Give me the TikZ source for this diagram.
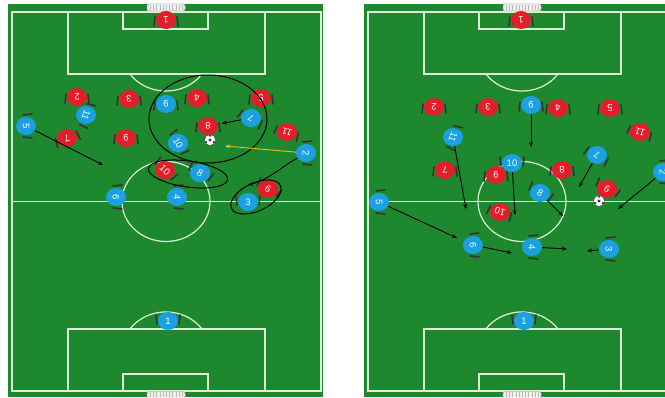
\documentclass[tikz,border=0pt]{standalone}
\usepackage{graphicx}
\usepackage{fontspec}
\newfontfamily\numfont{Liberation Sans}
\definecolor{pitchgreen}{RGB}{30,136,46}
\definecolor{pitchline}{RGB}{222,240,214}
\definecolor{homered}{RGB}{226,30,42}
\definecolor{awayblue}{RGB}{27,160,226}
\definecolor{passyellow}{RGB}{214,196,32}
\usetikzlibrary{
  arrows.meta,
  shapes.geometric
}

% name, x, y, colour, number, facing
\newcommand{\drawplayer}[6]{%
  \begin{scope}[shift={(#2,#3)}, rotate=#6]
    \draw[shoulder] (-12,-6) -- (-11,3);
    \draw[shoulder] (12,-6) -- (11,3);
  \end{scope}
  \node[player, fill=#4] (#1) at (#2,#3) {\rotatebox[origin=c]{#6}{#5}};
}

\begin{document}
\begin{tikzpicture}[
    x=1pt, y=-1pt,
    player/.style={
      ellipse, minimum width=20pt, minimum height=18pt, inner sep=0pt,
      text=white, font=\numfont\fontsize{9.5}{9.5}\selectfont,
    },
    shoulder/.style={draw=black!80, line width=1.6pt, line cap=round},
    ball/.style={circle, draw=black!70, fill=white, minimum size=11pt, inner sep=0pt},
    pitchlines/.style={draw=pitchline, line width=1.2pt},
    net/.style={draw=gray!60, fill=white!88!gray, line width=0.5pt, rounded corners=2pt},
    ring/.style={draw=black, line width=1pt},
    run/.style={->, draw=black, line width=0.9pt},
    pass/.style={->, draw=passyellow, line width=0.9pt},
    >={Stealth[length=5pt, width=4pt]}
  ]
  \useasboundingbox (0,0) rectangle (665,398);
  \fill[white] (0,0) rectangle (665,398);
  \clip (0,0) rectangle (665,398);

  %% --- pitches ---
  \foreach \ox/\gx in {12/8, 368/364} {
    \fill[pitchgreen] (\gx,4) rectangle (\gx+315,397);
    \draw[pitchlines] (\ox,12) rectangle (\ox+309,391);
    \draw[pitchlines] (\ox,201.5) -- (\ox+309,201.5);
    \draw[pitchlines] (\ox+154,201.5) ellipse [x radius=44pt, y radius=40pt];
    % top end
    \draw[pitchlines] (\ox+56,12) rectangle (\ox+253,74);
    \draw[pitchlines] (\ox+111,12) rectangle (\ox+196,29);
    \draw[pitchlines] (\ox+190,74) arc [start angle=-35, end angle=-145, x radius=44pt, y radius=40pt];
    % bottom end
    \draw[pitchlines] (\ox+56,329) rectangle (\ox+253,391);
    \draw[pitchlines] (\ox+111,374) rectangle (\ox+196,391);
    \draw[pitchlines] (\ox+190,329) arc [start angle=35, end angle=145, x radius=44pt, y radius=40pt];
    % nets
    \foreach \ny in {4, 391.5} {
      \draw[net] (\ox+135,\ny) rectangle (\ox+173,\ny+7);
      \foreach \k in {1,...,11}
        \draw[gray!55, line width=0.4pt] (\ox+135+3.2*\k,\ny+1) -- (\ox+135+3.2*\k,\ny+6);
    }
  }

  %% --- players, left pitch ---
  \foreach \nm/\x/\y/\col/\num/\ang in {
      lr1/166/20/homered/1/180, lr2/77/97/homered/2/180, lr3/129/99/homered/3/180,
      lr4/197/98/homered/4/180, lr5/261/98/homered/5/180, lr7/67/138/homered/7/200,
      lr9/126/138/homered/9/180, lr8/208/126/homered/8/180, lr11/287/132/homered/11/160,
      lr10/165/170/homered/10/-45, lr6/268/189/homered/6/-30,
      lb1/168/321/awayblue/1/0, lb5/26/126/awayblue/5/-90, lb11/86/115/awayblue/11/-110,
      lb9/166/104/awayblue/9/180, lb7/251/118/awayblue/7/150, lb10/178/143/awayblue/10/-60,
      lb2/306/153/awayblue/2/-90, lb8/200/173/awayblue/8/-30, lb3/248/202/awayblue/3/0,
      lb6/116/197/awayblue/6/-90, lb4/177/197/awayblue/4/-90} {
    \drawplayer{\nm}{\x}{\y}{\col}{\num}{\ang}
  }

  %% --- players, right pitch ---
  \foreach \nm/\x/\y/\col/\num/\ang in {
      rr1/521/20/homered/1/180, rr2/434/107/homered/2/180, rr3/488/107/homered/3/180,
      rr4/558/108/homered/4/180, rr5/610/108/homered/5/180, rr11/640/132/homered/11/160,
      rr7/445/170/homered/7/180, rr9/496/175/homered/9/180, rr8/562/170/homered/8/180,
      rr6/607/189/homered/6/-30, rr10/500/212/homered/10/160,
      rb1/524/321/awayblue/1/0, rb9/531/105/awayblue/9/180, rb11/453/137/awayblue/11/-110,
      rb10/512/163/awayblue/10/0, rb7/597/155/awayblue/7/150, rb8/540/193/awayblue/8/-30,
      rb2/663/172/awayblue/2/-90, rb5/379/202/awayblue/5/-90, rb6/473/245/awayblue/6/-90,
      rb4/532/247/awayblue/4/-90, rb3/609/249/awayblue/3/-90} {
    \drawplayer{\nm}{\x}{\y}{\col}{\num}{\ang}
  }

  %% --- balls ---
  \node[ball] (lball) at (210,140) {};
  \node[ball] (rball) at (599,201) {};
  \foreach \b in {lball, rball} {
    \fill[black!80] (\b.center) circle (1.6pt);
    \foreach \a in {90,210,330}
      \fill[black!80] ([shift={(\a:4.3pt)}]\b.center) circle (1.2pt);
  }

  %% --- left pitch: rings and runs ---
  \draw[ring] (208,119) ellipse [x radius=59pt, y radius=44pt];
  \draw[ring, rotate around={-8:(188,174)}] (188,174) ellipse [x radius=40pt, y radius=13pt];
  \draw[ring, rotate around={25:(256,197)}] (256,197) ellipse [x radius=27pt, y radius=14pt];

  \coordinate (la5) at (103,165);
  \coordinate (lpass) at (225,146);
  \coordinate (lcut) at (248,185);
  \draw[run] (lb5) -- (la5);
  \draw[run, shorten >=4pt] (lb7) -- (lr8);
  \draw[pass] (lb2) -- (lpass);
  \draw[run] (lb2) to[out=-150, in=15] (lcut);

  %% --- right pitch: runs ---
  \foreach \p/\tx/\ty in {rb9/531/147, rb11/466/209, rb10/515/215, rb7/579/187,
      rb2/618/209, rb8/563/216, rb5/457/238, rb6/512/253, rb4/567/249, rb3/587/251} {
    \coordinate (t\p) at (\tx,\ty);
    \draw[run] (\p) -- (t\p);
  }
\end{tikzpicture}
\end{document}
